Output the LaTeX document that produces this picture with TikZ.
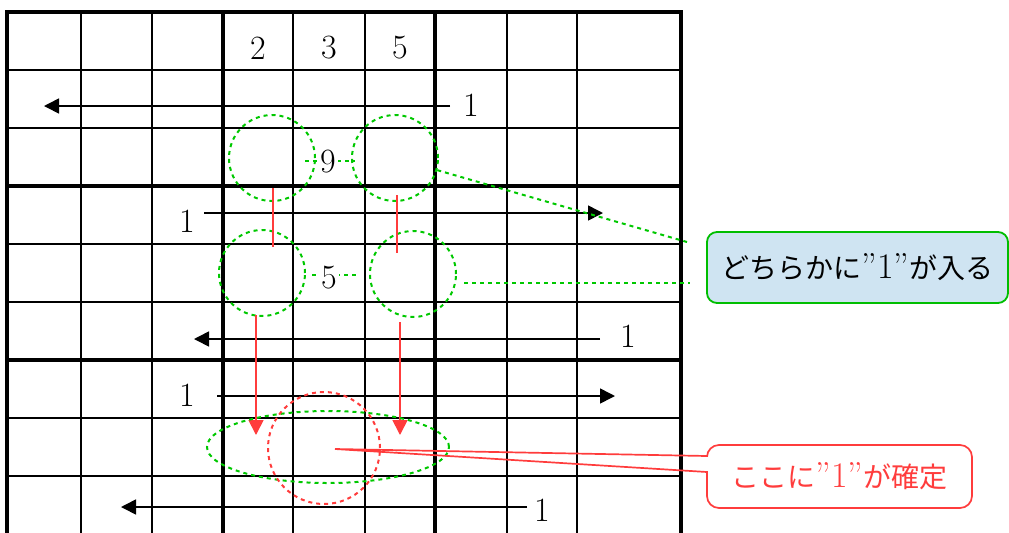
\documentclass[tikz,border=0pt]{standalone}
\usepackage{fontspec}
\usepackage{tikz}
\usetikzlibrary{arrows.meta,shapes.geometric}
\newfontfamily\jpfont{Noto Sans CJK JP}
\definecolor{dotgreen}{RGB}{0,200,0}
\definecolor{markred}{RGB}{255,60,60}
\definecolor{notefill}{RGB}{207,228,242}
\definecolor{noteedge}{RGB}{0,190,0}

\begin{document}
\begin{tikzpicture}[x=0.5pt, y=-0.5pt,
  num/.style={font=\fontsize{17}{20}\selectfont, inner sep=1pt},
  arr/.style={line width=0.8pt, -{Triangle[length=7.5pt,width=7.5pt]}},
  gdot/.style={draw=dotgreen, line width=1pt, dash pattern=on 2pt off 2pt},
  rdot/.style={draw=markred, line width=1pt, dash pattern=on 2pt off 2pt},
  gcirc/.style={gdot, circle, inner sep=0pt, minimum size=43pt},
  rline/.style={draw=markred, line width=0.85pt},
  rarr/.style={rline, -{Triangle[length=7.5pt,width=7.5pt]}, fill=markred},
  note/.style={font=\fontsize{14}{16}\selectfont, inner sep=2pt}]

\useasboundingbox (0,0) rectangle (1009,532);
\clip (0,0) rectangle (1009,532);

\foreach \x/\lw in {7/1.7,81/1,152/1,223/1.7,293/1,365/1,435/1.7,507/1,577/1,681/1.7}
  \draw[line width=\lw pt, line cap=rect] (\x,12) -- (\x,540);
\foreach \y/\lw in {12/1.7,70/1,128/1,186/1.7,244/1,302/1,360/1.7,418/1,476/1}
  \draw[line width=\lw pt, line cap=rect] (7,\y) -- (681,\y);

\node[num] (g2) at (258,48) {2};
\node[num] (g3) at (329,48) {3};
\node[num] (g5) at (400,48) {5};

\node[num] (one2) at (471,105) {1};
\node[num] (one4) at (187,221) {1};
\node[num] (one6) at (628,336) {1};
\node[num] (one7) at (187,395) {1};
\node[num] (one9) at (542,510) {1};

\coordinate (a2s) at (450,106);  \coordinate (a2e) at (44,106);
\coordinate (a4s) at (204,213);  \coordinate (a4e) at (603,213);
\coordinate (a6s) at (600,339);  \coordinate (a6e) at (194,339);
\coordinate (a7s) at (217,396);  \coordinate (a7e) at (615,396);
\coordinate (a9s) at (527,507);  \coordinate (a9e) at (121,507);
\foreach \r in {2,4,6,7,9}
  \draw[arr] (a\r s) -- (a\r e);

\node[gcirc] (c1) at (272,158) {};
\node[gcirc] (c2) at (395,158) {};
\node[gcirc] (c3) at (262,273) {};
\node[gcirc] (c4) at (413,274) {};

\coordinate (n9a) at (305,161);  \coordinate (n9b) at (355,161);
\coordinate (n5a) at (312,275);  \coordinate (n5b) at (358,275);
\draw[gdot] (n9a) -- (n9b);
\draw[gdot] (n5a) -- (n5b);
\node[num, fill=white] (nine) at (328,162) {9};
\node[num, fill=white] (five) at (329,278) {5};

\coordinate (v1a) at (273,188);  \coordinate (v1b) at (273,247);
\coordinate (v2a) at (397,195);  \coordinate (v2b) at (397,253);
\draw[rline] (v1a) -- (v1b);
\draw[rline] (v2a) -- (v2b);
\coordinate (d1a) at (256,315);  \coordinate (d1b) at (256,435);
\coordinate (d2a) at (400,322);  \coordinate (d2b) at (400,435);
\draw[rarr] (d1a) -- (d1b);
\draw[rarr] (d2a) -- (d2b);

\node[gdot, ellipse, inner sep=0pt, minimum width=121pt, minimum height=36pt] (pair) at (328,447) {};
\node[rdot, circle, inner sep=0pt, minimum size=56pt] (spot) at (324,448) {};

\node[note, draw=noteedge, line width=0.9pt, fill=notefill, rounded corners=5pt,
  minimum width=150.5pt, minimum height=35.5pt] (either) at (857.5,267.5)
  {{\jpfont どちらかに}{\fontsize{18}{20}\selectfont''1''}{\jpfont が入る}};
\coordinate (g1e) at (687,242);
\coordinate (g2s) at (464,283);  \coordinate (g2e) at (690,283);
\draw[gdot] (c2) -- (g1e);
\draw[gdot] (g2s) -- (g2e);

\node[note, rline, fill=white, text=markred, rounded corners=6pt,
  minimum width=132.5pt, minimum height=31.5pt] (fixed) at (839.5,476.5)
  {{\jpfont ここに}{\fontsize{18}{20}\selectfont''1''}{\jpfont が確定}};
\coordinate (tip) at (335,449);
\coordinate (p1) at (707,456);  \coordinate (p2) at (707,472);
\fill[white] (705,457) rectangle (710,471);
\draw[rline] (p1) -- (tip) -- (p2);

\end{tikzpicture}
\end{document}
